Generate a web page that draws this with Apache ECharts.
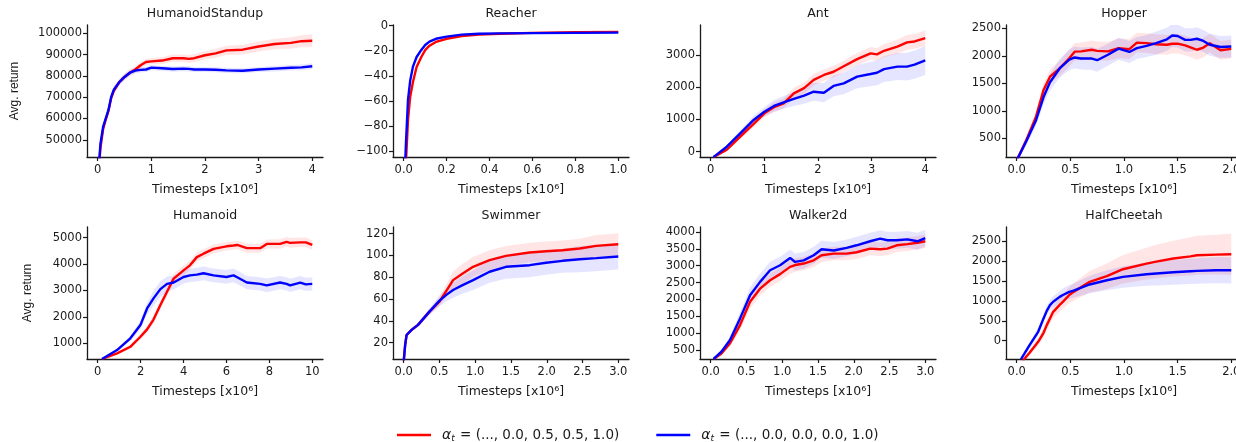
<!DOCTYPE html>
<html><head><meta charset="utf-8">
<script src="https://cdn.jsdelivr.net/npm/echarts@6/dist/echarts.min.js"></script>
<style>html,body{margin:0;padding:0;background:#fff;overflow:hidden}#c{width:1236px;height:442px}</style>
</head><body><div id="c"></div><script>
// ---------- DATA ----------
const titles = ['HumanoidStandup', 'Reacher', 'Ant', 'Hopper', 'Humanoid', 'Swimmer', 'Walker2d', 'HalfCheetah'];
const seriesNames = ['α_t = (..., 0.0, 0.5, 0.5, 1.0)', 'α_t = (..., 0.0, 0.0, 0.0, 1.0)'];
const xAxisTitle = 'Timesteps [x10⁶]';
const yAxisTitle = 'Avg. return';

// HumanoidStandup
const hsX = [0, 0.05, 0.1, 0.15, 0.2, 0.25, 0.3, 0.4, 0.5, 0.6, 0.7, 0.8, 0.9, 1.0, 1.2, 1.4, 1.6, 1.7, 1.8, 2.0, 2.2, 2.4, 2.7, 3.0, 3.3, 3.6, 3.8, 4.0];
const hsRed = [29000, 46000, 55000, 59500, 63500, 69500, 73000, 77000, 79500, 81500, 83000, 85000, 86500, 86800, 87200, 88300, 88300, 88000, 88300, 89700, 90600, 92000, 92300, 93800, 95000, 95500, 96300, 96500];
const hsBlue = [30000, 48000, 56000, 60000, 64000, 70000, 73500, 77000, 79500, 81500, 82500, 82800, 83000, 83900, 83600, 83200, 83400, 83300, 83000, 83000, 82900, 82600, 82400, 83000, 83400, 83800, 84000, 84500];
const hsRedSd = [1500, 1500, 1500, 1500, 1500, 1500, 1500, 1500, 1500, 1500, 1500, 1500, 1500, 1500, 1600, 1700, 1800, 1800, 1900, 2000, 2100, 2200, 2300, 2400, 2500, 2700, 2800, 3000];
const hsBlueSd = [1500, 1500, 1500, 1500, 1500, 1500, 1500, 1500, 1500, 1400, 1300, 1200, 1200, 1200, 1200, 1200, 1200, 1200, 1200, 1200, 1200, 1200, 1200, 1200, 1300, 1300, 1400, 1400];

// Reacher
const reX = [0, 0.01, 0.02, 0.03, 0.043, 0.06, 0.082, 0.1, 0.12, 0.15, 0.2, 0.27, 0.35, 0.45, 0.6, 0.8, 1.0];
const reRed = [-150, -110, -75, -57, -45, -33, -25, -19.5, -16, -13, -10.5, -8.3, -7.2, -6.5, -5.8, -5.3, -5.0];
const reBlue = [-140, -95, -59, -44, -32.7, -25, -19.4, -15.5, -12.8, -10.5, -8.8, -7.2, -6.5, -6.2, -6.0, -5.8, -5.6];
const reRedSd = [3, 3, 2, 2, 2, 1.5, 1.5, 1, 1, 1, 0.8, 0.6, 0.5, 0.5, 0.5, 0.5, 0.5];
const reBlueSd = [3, 3, 2, 2, 2, 1.5, 1.5, 1, 1, 1, 0.8, 0.6, 0.5, 0.5, 0.5, 0.5, 0.5];

// Ant
const anX = [0.05, 0.3, 0.55, 0.8, 1.0, 1.18, 1.36, 1.55, 1.74, 1.92, 2.11, 2.29, 2.48, 2.73, 2.98, 3.1, 3.23, 3.48, 3.66, 3.8, 4.0];
const anRed = [-170, 60, 465, 860, 1190, 1380, 1500, 1810, 1970, 2230, 2380, 2480, 2650, 2870, 3050, 3020, 3130, 3260, 3390, 3420, 3520];
const anBlue = [-170, 155, 570, 985, 1240, 1420, 1530, 1640, 1740, 1860, 1830, 2040, 2120, 2330, 2410, 2450, 2560, 2640, 2640, 2700, 2830];
const anRedSd = [30, 50, 80, 100, 120, 150, 150, 170, 180, 180, 180, 180, 180, 190, 200, 200, 200, 220, 230, 230, 240];
const anBlueSd = [30, 60, 100, 130, 150, 180, 200, 220, 250, 280, 300, 320, 340, 360, 380, 390, 400, 420, 430, 440, 450];

// Hopper
const hoX = [0, 0.09, 0.18, 0.25, 0.31, 0.4, 0.49, 0.54, 0.6, 0.7, 0.75, 0.85, 0.95, 1.05, 1.12, 1.21, 1.3, 1.4, 1.45, 1.5, 1.57, 1.62, 1.68, 1.74, 1.8, 1.9, 2.0];
const hoRed = [100, 470, 893, 1378, 1620, 1773, 1955, 2075, 2080, 2110, 2090, 2080, 2140, 2120, 2240, 2230, 2210, 2200, 2220, 2220, 2190, 2155, 2110, 2150, 2230, 2100, 2125];
const hoBlue = [100, 450, 830, 1250, 1520, 1770, 1930, 1970, 1950, 1950, 1920, 2020, 2130, 2070, 2140, 2180, 2230, 2300, 2370, 2360, 2290, 2290, 2310, 2270, 2200, 2160, 2170];
const hoRedSd = [50, 80, 100, 120, 130, 140, 150, 160, 160, 170, 170, 170, 180, 180, 180, 180, 180, 180, 180, 180, 180, 180, 180, 180, 170, 170, 170];
const hoBlueSd = [50, 80, 100, 130, 150, 170, 190, 200, 200, 210, 210, 200, 200, 200, 200, 200, 210, 210, 210, 210, 210, 210, 210, 200, 200, 200, 200];

// Humanoid
const huX = [0.2, 0.9, 1.52, 1.99, 2.3, 2.6, 2.92, 3.23, 3.54, 4.0, 4.3, 4.62, 4.93, 5.4, 6.0, 6.33, 6.5, 6.95, 7.57, 7.88, 8.5, 8.8, 8.97, 9.44, 9.7, 10.0];
const huRed = [408, 620, 870, 1250, 1530, 1900, 2450, 2950, 3450, 3760, 3950, 4260, 4390, 4570, 4670, 4700, 4720, 4600, 4600, 4760, 4760, 4840, 4800, 4820, 4820, 4720];
const huBlue = [408, 747, 1190, 1690, 2320, 2700, 3050, 3250, 3300, 3510, 3570, 3600, 3650, 3570, 3510, 3570, 3500, 3300, 3250, 3190, 3300, 3250, 3190, 3300, 3230, 3250];
const huRedSd = [30, 50, 80, 100, 130, 150, 170, 180, 180, 180, 170, 170, 170, 170, 160, 160, 160, 170, 170, 170, 180, 180, 180, 180, 180, 180];
const huBlueSd = [30, 60, 100, 160, 220, 280, 300, 280, 260, 250, 250, 260, 260, 260, 260, 260, 260, 250, 250, 260, 250, 250, 250, 250, 250, 250];

// Swimmer
const swX = [0.0, 0.02, 0.04, 0.11, 0.2, 0.36, 0.5, 0.6, 0.69, 0.83, 0.97, 1.2, 1.43, 1.76, 1.99, 2.22, 2.46, 2.69, 3.0];
const swRed = [3, 18, 27, 31.7, 36.3, 48.4, 57.5, 68, 77.3, 83.5, 89.5, 95.6, 99.5, 102.6, 103.8, 104.7, 106.3, 108.7, 110.2];
const swBlue = [3, 18, 27, 31.7, 36.3, 48.4, 58.5, 64, 68.2, 73, 77.3, 85, 89.5, 91, 93.2, 95, 96.5, 97.5, 99];
const swRedSd = [1, 2, 2, 2, 2, 3, 4, 6, 8, 9, 9, 9, 9, 9, 9, 9, 9, 10, 10];
const swBlueSd = [1, 2, 2, 2, 2, 3, 5, 6, 7, 8, 9, 10, 11, 11, 11, 11, 12, 12, 12];

// Walker2d
const waX = [0.04, 0.15, 0.27, 0.41, 0.55, 0.69, 0.83, 0.97, 1.11, 1.18, 1.3, 1.44, 1.55, 1.72, 1.9, 2.04, 2.23, 2.37, 2.47, 2.6, 2.75, 2.89, 3.0];
const waRed = [234, 400, 700, 1240, 1930, 2320, 2570, 2750, 2965, 3020, 3065, 3160, 3310, 3360, 3360, 3400, 3508, 3488, 3508, 3606, 3640, 3680, 3725];
const waBlue = [234, 450, 796, 1438, 2127, 2521, 2867, 3015, 3231, 3112, 3160, 3310, 3488, 3450, 3527, 3606, 3725, 3802, 3755, 3755, 3780, 3725, 3820];
const waRedSd = [30, 60, 100, 150, 200, 200, 200, 200, 200, 200, 200, 200, 200, 200, 200, 200, 200, 200, 200, 200, 200, 200, 200];
const waBlueSd = [30, 60, 120, 180, 230, 250, 250, 250, 250, 250, 250, 250, 250, 250, 250, 250, 250, 250, 250, 250, 250, 250, 250];

// HalfCheetah
const hcX = [0.04, 0.07, 0.12, 0.2, 0.25, 0.28, 0.31, 0.34, 0.4, 0.43, 0.49, 0.53, 0.68, 0.84, 0.99, 1.21, 1.3, 1.46, 1.62, 1.68, 1.86, 2.0];
const hcRed = [-600, -460, -300, -26, 200, 393, 560, 727, 900, 977, 1150, 1228, 1480, 1622, 1798, 1940, 1990, 2066, 2120, 2149, 2165, 2173];
const hcBlue = [-460, -330, -109, 225, 561, 750, 894, 980, 1103, 1150, 1228, 1260, 1414, 1520, 1604, 1670, 1690, 1720, 1747, 1755, 1772, 1770];
const hcRedSd = [50, 60, 80, 100, 120, 130, 140, 150, 170, 180, 200, 220, 270, 320, 360, 400, 420, 450, 480, 490, 500, 520];
const hcBlueSd = [50, 60, 80, 100, 110, 120, 130, 140, 150, 160, 170, 180, 220, 250, 270, 290, 300, 310, 320, 320, 330, 330];

// Tick labels
const hsXTicks = [0, 1, 2, 3, 4];
const hsYTicks = [50000, 60000, 70000, 80000, 90000, 100000];
const reXTicks = [0, 0.2, 0.4, 0.6, 0.8, 1.0];
const reYTicks = [-100, -80, -60, -40, -20, 0];
const anXTicks = [0, 1, 2, 3, 4];
const anYTicks = [0, 1000, 2000, 3000];
const hoXTicks = [0, 0.5, 1.0, 1.5, 2.0];
const hoYTicks = [500, 1000, 1500, 2000, 2500];
const huXTicks = [0, 2, 4, 6, 8, 10];
const huYTicks = [1000, 2000, 3000, 4000, 5000];
const swXTicks = [0, 0.5, 1.0, 1.5, 2.0, 2.5, 3.0];
const swYTicks = [20, 40, 60, 80, 100, 120];
const waXTicks = [0, 0.5, 1.0, 1.5, 2.0, 2.5, 3.0];
const waYTicks = [500, 1000, 1500, 2000, 2500, 3000, 3500, 4000];
const hcXTicks = [0, 0.5, 1.0, 1.5, 2.0];
const hcYTicks = [0, 500, 1000, 1500, 2000, 2500];

const panels = [
  {x: hsX, red: hsRed, blue: hsBlue, redSd: hsRedSd, blueSd: hsBlueSd, xt: hsXTicks, yt: hsYTicks},
  {x: reX, red: reRed, blue: reBlue, redSd: reRedSd, blueSd: reBlueSd, xt: reXTicks, yt: reYTicks},
  {x: anX, red: anRed, blue: anBlue, redSd: anRedSd, blueSd: anBlueSd, xt: anXTicks, yt: anYTicks},
  {x: hoX, red: hoRed, blue: hoBlue, redSd: hoRedSd, blueSd: hoBlueSd, xt: hoXTicks, yt: hoYTicks},
  {x: huX, red: huRed, blue: huBlue, redSd: huRedSd, blueSd: huBlueSd, xt: huXTicks, yt: huYTicks},
  {x: swX, red: swRed, blue: swBlue, redSd: swRedSd, blueSd: swBlueSd, xt: swXTicks, yt: swYTicks},
  {x: waX, red: waRed, blue: waBlue, redSd: waRedSd, blueSd: waBlueSd, xt: waXTicks, yt: waYTicks},
  {x: hcX, red: hcRed, blue: hcBlue, redSd: hcRedSd, blueSd: hcBlueSd, xt: hcXTicks, yt: hcYTicks}
];

// ---------- LAYOUT ----------
// left, top, width, height, xmin, xmax, ymin, ymax, x decimals, y-name gap
const layout = [
  [87, 25, 236, 132, -0.2, 4.2, 41900, 103900, 0, 66],
  [393, 25, 236, 132, -0.05, 1.05, -104.8, 0.5, 1, null],
  [700, 25, 236, 132, -0.2, 4.2, -165, 3930, 0, null],
  [1006, 25, 236, 132, -0.1, 2.1, 160, 2560, 1, null],
  [87, 227, 236, 132, -0.5, 10.5, 408, 5400, 0, 53],
  [393, 227, 236, 132, -0.15, 3.15, 5, 126, 1, null],
  [700, 227, 236, 132, -0.15, 3.15, 234, 4148, 1, null],
  [1006, 227, 236, 132, -0.1, 2.1, -459, 2859, 1, null]
];
const INK = '#1a1a1a';
const FONT = 'DejaVu Sans';
const RED = '#ff0000', BLUE = '#0000ff';
const RED_FILL = 'rgba(255,0,0,0.10)', BLUE_FILL = 'rgba(0,0,255,0.10)';

function minus(s) { return s.replace('-', '\u2212'); }
function pairs(xs, ys) { return xs.map((x, i) => [x, ys[i]]); }

function bandRenderer(fill) {
  return function (params, api) {
    if (params.dataIndexInside !== 0) return null;
    const n = params.dataInsideLength;
    const up = [], lo = [];
    for (let j = 0; j < n; j++) {
      up.push(api.coord([api.value(0, j), api.value(2, j)]));
      lo.push(api.coord([api.value(0, j), api.value(1, j)]));
    }
    return {type: 'polygon', shape: {points: up.concat(lo.reverse())}, style: {fill: fill}, silent: true};
  };
}

const grid = [], xAxis = [], yAxis = [], title = [], series = [];
panels.forEach((p, i) => {
  const [left, top, width, height, xmin, xmax, ymin, ymax, xdec, yGap] = layout[i];
  grid.push({left, top, width, height, containLabel: false, outerBoundsMode: 'none'});
  title.push({
    text: titles[i], left: left + width / 2, top: top - 18, textAlign: 'center', padding: 0,
    textStyle: {fontFamily: FONT, fontSize: 12.5, fontWeight: 'normal', color: INK}
  });
  const axisLine = {show: true, onZero: false, lineStyle: {color: INK, width: 1.3}};
  xAxis.push({
    gridIndex: i, type: 'value', min: xmin, max: xmax,
    name: xAxisTitle, nameLocation: 'middle', nameGap: 26,
    nameTextStyle: {fontFamily: FONT, fontSize: 12.5, color: INK},
    axisLine,
    axisTick: {show: true, inside: false, length: 4, customValues: p.xt, lineStyle: {color: INK, width: 1.2}},
    axisLabel: {customValues: p.xt, margin: 7, fontFamily: FONT, fontSize: 11.5, color: INK,
      formatter: v => minus(Number(v).toFixed(xdec))},
    splitLine: {show: false}
  });
  const ya = {
    gridIndex: i, type: 'value', min: ymin, max: ymax,
    axisLine,
    axisTick: {show: true, inside: false, length: 4, customValues: p.yt, lineStyle: {color: INK, width: 1.2}},
    axisLabel: {customValues: p.yt, margin: 5, fontFamily: FONT, fontSize: 11.5, color: INK,
      formatter: v => minus(String(Math.round(v)))},
    splitLine: {show: false}
  };
  if (yGap) {
    Object.assign(ya, {name: yAxisTitle, nameLocation: 'middle', nameGap: yGap,
      nameTextStyle: {fontFamily: 'Liberation Sans', fontSize: 12, color: INK}});
  }
  yAxis.push(ya);

  const defs = [
    [p.red, p.redSd, RED_FILL, RED, seriesNames[0], 3],
    [p.blue, p.blueSd, BLUE_FILL, BLUE, seriesNames[1], 4]
  ];
  defs.forEach(([m, sd, fill], k) => {
    series.push({
      type: 'custom', name: 'band' + i + '_' + k, xAxisIndex: i, yAxisIndex: i, clip: true, silent: true, z: 1,
      data: p.x.map((x, j) => [x, m[j] - sd[j], m[j] + sd[j]]),
      encode: {x: 0, y: [1, 2]},
      renderItem: bandRenderer(fill), animation: false
    });
  });
  defs.forEach(([m, sd, fill, col, name, z]) => {
    series.push({type: 'line', name, xAxisIndex: i, yAxisIndex: i, data: pairs(p.x, m), symbol: 'none',
      z, lineStyle: {color: col, width: 2.4}, itemStyle: {color: col}, animation: false});
  });
});

const chart = echarts.init(document.getElementById('c'), null, {renderer: 'canvas'});
chart.setOption({
  backgroundColor: '#ffffff',
  animation: false,
  title, grid, xAxis, yAxis, series,
  legend: {
    left: 397, top: 428, padding: 0, icon: 'rect', itemWidth: 34, itemHeight: 2.5, itemGap: 37,
    data: [{name: seriesNames[0], itemStyle: {color: RED}}, {name: seriesNames[1], itemStyle: {color: BLUE}}],
    formatter: name => {
      const rest = name.split('_t')[1];
      return '{i|α}{s|t}{n|' + rest + '}';
    },
    textStyle: {
      color: INK, fontFamily: FONT, fontSize: 13.5,
      rich: {
        i: {fontFamily: FONT, fontStyle: 'italic', fontSize: 14, color: INK, padding: [0, 0, 0, 6]},
        s: {fontFamily: FONT, fontStyle: 'italic', fontSize: 9, color: INK, padding: [8, 1, 0, 0]},
        n: {fontFamily: FONT, fontSize: 13.5, color: INK}
      }
    }
  }
});
</script></body></html>
